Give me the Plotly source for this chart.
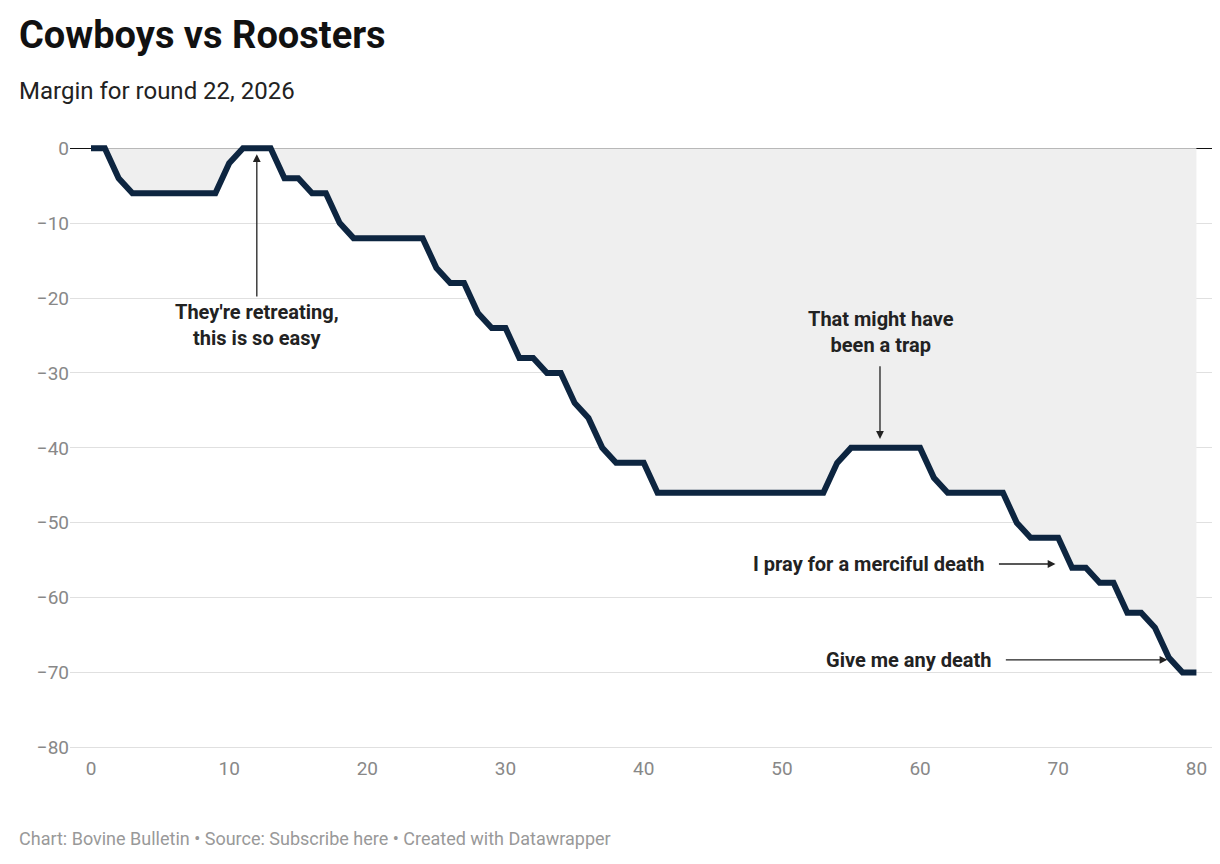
import plotly.graph_objects as go

minutes = list(range(0, 81))
margin = [0, 0, -4, -6, -6, -6, -6, -6, -6, -6, -2, 0, 0, 0, -4, -4, -6, -6, -10, -12,
          -12, -12, -12, -12, -12, -16, -18, -18, -22, -24, -24, -28, -28, -30, -30, -34, -36, -40, -42, -42,
          -42, -46, -46, -46, -46, -46, -46, -46, -46, -46, -46, -46, -46, -46, -42, -40, -40, -40, -40, -40,
          -40, -44, -46, -46, -46, -46, -46, -50, -52, -52, -52, -56, -56, -58, -58, -62, -62, -64, -68, -70,
          -70]
yticks = [0, -10, -20, -30, -40, -50, -60, -70, -80]
xticks = [0, 10, 20, 30, 40, 50, 60, 70, 80]

navy = '#0d2540'
font = 'Roboto'

fig = go.Figure()
fig.add_trace(go.Scatter(x=minutes, y=margin, mode='lines', fill='tozeroy',
                         fillcolor='#efefef', line=dict(color=navy, width=6)))

# arrows (tail -> head)
arrows = [((12, -20), (12, -0.8)),
          ((57.1, -28.9), (57.1, -38.8)),
          ((65.6, -55.5), (69.8, -55.5)),
          ((66.1, -68.3), (77.9, -68.3))]
for (tx, ty), (hx, hy) in arrows:
    fig.add_annotation(x=hx, y=hy, ax=tx, ay=ty, xref='x', yref='y', axref='x', ayref='y',
                       text='', showarrow=True, arrowhead=2, arrowsize=1.2, arrowwidth=1.3,
                       arrowcolor='#222')

labels = [
    (12, -23.6, "They're retreating,<br>this is so easy", 'center'),
    (57.2, -24.5, 'That might have<br>been a trap', 'center'),
    (64.8, -55.5, 'I pray for a merciful death', 'right'),
    (65.3, -68.3, 'Give me any death', 'right'),
]
for x, y, t, al in labels:
    fig.add_annotation(x=x, y=y, xref='x', yref='y', text='<b>' + t + '</b>', showarrow=False,
                       xanchor=al, align='center', font=dict(family=font, size=20, color='#222'))

# header / footer
fig.add_annotation(x=-0.046, y=1.21, xref='paper', yref='paper', xanchor='left', yanchor='top',
                   text='<b>Cowboys vs Roosters</b>', showarrow=False,
                   font=dict(family=font, size=38, color='#111'))
fig.add_annotation(x=-0.046, y=1.08, xref='paper', yref='paper', xanchor='left', yanchor='middle',
                   text='Margin for round 22, 2026', showarrow=False,
                   font=dict(family=font, size=24, color='#222'))
fig.add_annotation(x=-0.046, y=-0.135, xref='paper', yref='paper', xanchor='left', yanchor='middle',
                   text='Chart: Bovine Bulletin • Source: Subscribe here • Created with Datawrapper',
                   showarrow=False, font=dict(family=font, size=18, color='#999'))

fig.update_layout(
    width=1220, height=864,
    paper_bgcolor='white', plot_bgcolor='white',
    font=dict(family=font, size=19, color='#888'),
    showlegend=False,
    margin=dict(l=62, r=15, t=132, b=117),
)

fig.update_xaxes(range=[-1.52, 81.2], tickvals=xticks, automargin=False,
                 showgrid=False, zeroline=False, ticks='', tickfont=dict(size=19, color='#888'))
fig.update_yaxes(range=[-81, 1.1], tickvals=yticks, automargin=False,
                 ticktext=[str(v).replace('-', '−') for v in yticks],
                 showgrid=True, gridcolor='#e0e0e0', zeroline=True, zerolinecolor='#111',
                 zerolinewidth=1.3, ticks='', tickfont=dict(size=19, color='#888'))

fig.write_html('out.html')
